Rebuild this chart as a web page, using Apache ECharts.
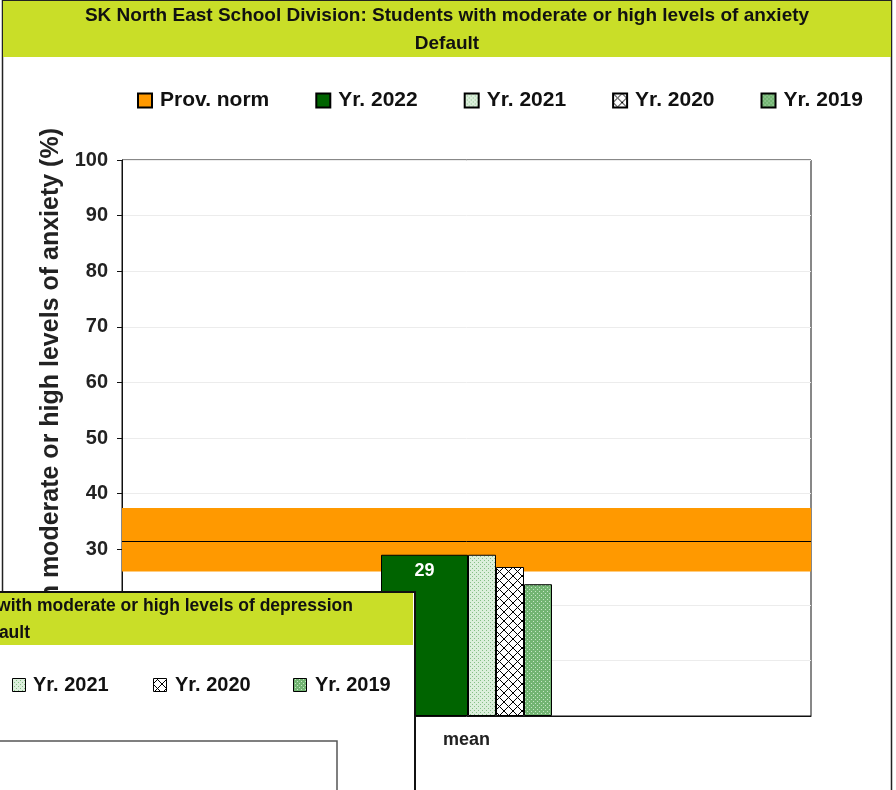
<!DOCTYPE html>
<html>
<head>
<meta charset="utf-8">
<script src="https://cdn.jsdelivr.net/npm/echarts@6/dist/echarts.min.js"></script>
<style>
  html, body { margin: 0; padding: 0; background: #ffffff; }
  #chart { width: 896px; height: 790px; }
</style>
</head>
<body>
<div id="chart"></div>
<script>
// Chart data
const categories = ['mean'];
const seriesNames = ['Yr. 2022', 'Yr. 2021', 'Yr. 2020', 'Yr. 2019'];
const values2022 = [29];
const values2021 = [29];
const values2020 = [26.8];
const values2019 = [23.7];
const provNorm = 31.5;
const provNormLow = 26;
const provNormHigh = 37.4;
const yTicks = [0, 10, 20, 30, 40, 50, 60, 70, 80, 90, 100];

const FONT = '"Liberation Sans", Arial, sans-serif';
const LIME = '#c9de28';

// Small repeating fill tiles for the hatched bars
function tile(size, draw) {
  const c = document.createElement('canvas');
  c.width = size; c.height = size;
  draw(c.getContext('2d'), size);
  return c;
}
const dotsLight = tile(4, (g, s) => {
  g.fillStyle = '#dcefdc'; g.fillRect(0, 0, s, s);
  g.fillStyle = '#86bf86'; g.fillRect(0, 0, 1, 1); g.fillRect(2, 2, 1, 1);
});
const crossHatch = tile(9, (g, s) => {
  g.fillStyle = '#ffffff'; g.fillRect(0, 0, s, s);
  g.strokeStyle = '#000000'; g.lineWidth = 1;
  g.beginPath();
  g.moveTo(0, 0); g.lineTo(s, s);
  g.moveTo(s, 0); g.lineTo(0, s);
  g.stroke();
});
const dotsDark = tile(4, (g, s) => {
  g.fillStyle = '#72b472'; g.fillRect(0, 0, s, s);
  g.fillStyle = '#c6e6c6'; g.fillRect(1, 1, 1, 1); g.fillRect(3, 3, 1, 1);
});

const fills = ['#006400', { image: dotsLight, repeat: 'repeat' }, { image: crossHatch, repeat: 'repeat' }, { image: dotsDark, repeat: 'repeat' }];
const widths = [87, 28, 28, 28];
const valueSets = [values2022, values2021, values2020, values2019];

const barSeries = seriesNames.map((name, i) => ({
  name: name,
  type: 'bar',
  data: valueSets[i],
  barWidth: widths[i],
  barGap: '0%',
  itemStyle: { color: fills[i], borderColor: '#000', borderWidth: 1 },
  label: i === 0 ? {
    show: true, position: 'insideTop', distance: 7,
    color: '#ffffff', fontFamily: FONT, fontWeight: 'bold', fontSize: 18,
    formatter: p => String(p.value)
  } : { show: false },
  emphasis: { disabled: true }
}));

const chart = echarts.init(document.getElementById('chart'), null, { renderer: 'canvas' });

// Second (partly covered) chart window in the lower left corner
function onUpperLayer(el) { el.zlevel = 1; el.silent = true; return el; }
const overlayParts = [
  { type: 'rect', shape: { x: -20, y: 592, width: 435, height: 220 }, style: { fill: '#ffffff', stroke: '#111', lineWidth: 2 } },
  { type: 'rect', shape: { x: -20, y: 593, width: 433, height: 52 }, style: { fill: LIME } },
  { type: 'text', x: 353, y: 606, style: { text: 'SK North East School Division: Students with moderate or high levels of depression', align: 'right', verticalAlign: 'middle', font: 'bold 17.5px ' + FONT, fill: '#111' } },
  { type: 'text', x: 30, y: 633, style: { text: 'Default', align: 'right', verticalAlign: 'middle', font: 'bold 17.5px ' + FONT, fill: '#111' } },
  { type: 'rect', shape: { x: 12.5, y: 678.5, width: 13, height: 13 }, style: { fill: { image: dotsLight, repeat: 'repeat' }, stroke: '#000', lineWidth: 1 } },
  { type: 'text', x: 33, y: 685, style: { text: 'Yr. 2021', verticalAlign: 'middle', font: 'bold 20px ' + FONT, fill: '#111' } },
  { type: 'rect', shape: { x: 153.5, y: 678.5, width: 13, height: 13 }, style: { fill: { image: crossHatch, repeat: 'repeat' }, stroke: '#000', lineWidth: 1 } },
  { type: 'text', x: 175, y: 685, style: { text: 'Yr. 2020', verticalAlign: 'middle', font: 'bold 20px ' + FONT, fill: '#111' } },
  { type: 'rect', shape: { x: 293.5, y: 678.5, width: 13, height: 13 }, style: { fill: { image: dotsDark, repeat: 'repeat' }, stroke: '#000', lineWidth: 1 } },
  { type: 'text', x: 315, y: 685, style: { text: 'Yr. 2019', verticalAlign: 'middle', font: 'bold 20px ' + FONT, fill: '#111' } },
  { type: 'rect', shape: { x: -20, y: 741, width: 357, height: 100 }, style: { fill: 'none', stroke: '#555', lineWidth: 1.5 } }
].map(onUpperLayer);

chart.setOption({
  animation: false,
  backgroundColor: '#ffffff',
  textStyle: { fontFamily: FONT },
  graphic: [
    // main window frame and title band
    { type: 'rect', z: -10, silent: true, shape: { x: 2.5, y: 0.5, width: 889, height: 820 }, style: { fill: '#ffffff', stroke: '#222', lineWidth: 1.5 } },
    { type: 'rect', z: -9, silent: true, shape: { x: 3, y: 1, width: 888, height: 56 }, style: { fill: LIME } },
    { type: 'text', z: 5, silent: true, x: 447, y: 16, style: { text: 'SK North East School Division: Students with moderate or high levels of anxiety', align: 'center', verticalAlign: 'middle', font: 'bold 19px ' + FONT, fill: '#111' } },
    { type: 'text', z: 5, silent: true, x: 447, y: 44, style: { text: 'Default', align: 'center', verticalAlign: 'middle', font: 'bold 19px ' + FONT, fill: '#111' } },
    // rotated y-axis title
    { type: 'text', z: 5, silent: true, x: 51, y: 128, rotation: Math.PI / 2, style: { text: 'Students with moderate or high levels of anxiety (%)', align: 'right', verticalAlign: 'middle', font: 'bold 25px ' + FONT, fill: '#222' } }
  ].concat(overlayParts),
  legend: {
    left: 132, top: 85,
    icon: 'rect', itemWidth: 14, itemHeight: 14, itemGap: 46,
    textStyle: { fontFamily: FONT, fontWeight: 'bold', fontSize: 21, color: '#111', padding: [0, 0, 0, 3] },
    data: ['Prov. norm'].concat(seriesNames),
    selectedMode: false
  },
  grid: { left: 122, top: 160, right: 85, bottom: 74, show: true, borderColor: '#111', borderWidth: 1, backgroundColor: 'transparent' },
  xAxis: {
    type: 'category', data: categories,
    axisLine: { lineStyle: { color: '#111' } },
    axisTick: { alignWithLabel: true, length: 5, lineStyle: { color: '#111' } },
    axisLabel: { margin: 15, fontFamily: FONT, fontWeight: 'bold', fontSize: 18, color: '#222' }
  },
  yAxis: {
    type: 'value', min: yTicks[0], max: yTicks[yTicks.length - 1], interval: 10,
    axisLine: { show: true, lineStyle: { color: '#111' } },
    axisTick: { show: true, length: 5, lineStyle: { color: '#111' } },
    axisLabel: { margin: 14, fontFamily: FONT, fontWeight: 'bold', fontSize: 20, color: '#222' },
    splitLine: { show: true, lineStyle: { color: '#ececec', width: 1 } }
  },
  series: [
    {
      name: 'Prov. norm', type: 'line', data: [],
      itemStyle: { color: '#ff9900', borderColor: '#000', borderWidth: 1 },
      lineStyle: { color: '#ff9900' },
      markArea: {
        silent: true,
        itemStyle: { color: '#ff9900', opacity: 1 },
        data: [[{ yAxis: provNormLow }, { yAxis: provNormHigh }]]
      },
      markLine: {
        silent: true, symbol: 'none', label: { show: false },
        lineStyle: { color: '#000', width: 1, type: 'solid' },
        data: [{ yAxis: provNorm }]
      }
    }
  ].concat(barSeries)
});
</script>
</body>
</html>
